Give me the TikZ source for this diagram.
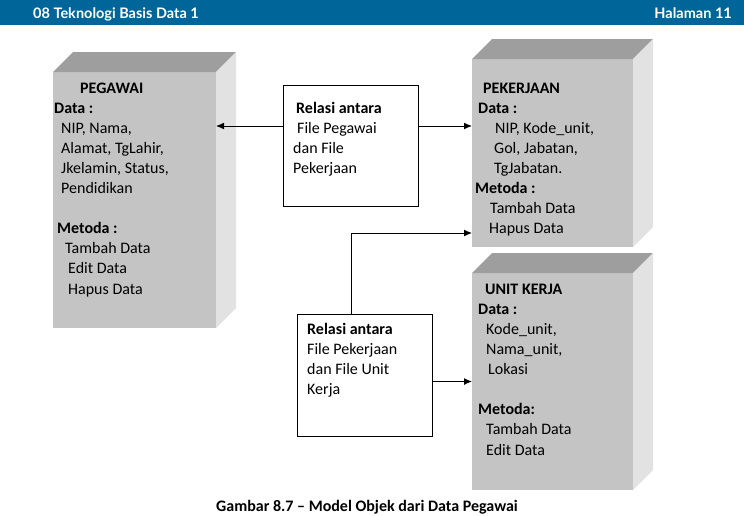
\documentclass[tikz,border=0pt]{standalone}
\usepackage{fontspec}
\setmainfont{Carlito}
\newfontfamily\headfont{Lato}
\usetikzlibrary{arrows.meta}
\definecolor{headblue}{RGB}{0,102,153}
\definecolor{facefront}{RGB}{196,196,196}
\definecolor{facetop}{RGB}{158,158,158}
\definecolor{faceside}{RGB}{226,226,226}

\begin{document}
\begin{tikzpicture}[x=1pt,y=-1pt,
  front/.style={fill=facefront,inner sep=0pt,outer sep=0pt},
  relbox/.style={draw,line width=1pt,fill=white,inner sep=0pt,outer sep=0pt,minimum width=135pt},
  txt/.style={align=left,inner sep=0pt,anchor=base west,font=\fontsize{16}{20.1}\selectfont},
  arr/.style={-{Latex[length=8pt,width=7pt]},line width=1pt}]
\useasboundingbox (0,0) rectangle (744,515);
% header bar
\fill[headblue] (0,0) rectangle (744,25);
\node[font=\headfont\bfseries\fontsize{14.5}{16}\selectfont,text=white,anchor=base west,inner sep=0pt] (headl) at (33,18) {08 Teknologi Basis Data 1};
\node[font=\headfont\bfseries\fontsize{14.5}{16}\selectfont,text=white,anchor=base east,inner sep=0pt] (headr) at (732,18) {Halaman 11};
% objek boxes
\node[front,minimum width=163pt,minimum height=256pt] (peg) at (134.5,200) {};
\node[front,minimum width=161pt,minimum height=188pt] (pek) at (552.5,153) {};
\node[front,minimum width=161pt,minimum height=217pt] (unit) at (552.5,381.5) {};
\foreach \b in {peg,pek,unit} {
  \fill[facetop] (\b.north west) -- ++(20,-20) -- ([shift={(20,-20)}]\b.north east) -- (\b.north east) -- cycle;
  \fill[faceside] (\b.north east) -- ++(20,-20) -- ([shift={(20,-20)}]\b.south east) -- (\b.south east) -- cycle;
}
% texts, anchored at the baseline of their last line
\node[txt] (peg-txt) at (54,294) {\hspace*{26pt}\textbf{PEGAWAI}\\
  \textbf{Data :}\\
  \hspace*{7pt}NIP, Nama,\\
  \hspace*{7pt}Alamat, TgLahir,\\
  \hspace*{7pt}Jkelamin, Status,\\
  \hspace*{7pt}Pendidikan\\[20.1pt]
  \hspace*{3pt}\textbf{Metoda :}\\
  \hspace*{11pt}Tambah Data\\
  \hspace*{14pt}Edit Data\\
  \hspace*{14pt}Hapus Data};
\node[txt,font=\fontsize{16}{20}\selectfont] (pek-txt) at (475,233) {\hspace*{8pt}\textbf{PEKERJAAN}\\
  \hspace*{3pt}\textbf{Data :}\\
  \hspace*{20pt}NIP, Kode\_unit,\\
  \hspace*{19pt}Gol, Jabatan,\\
  \hspace*{19pt}TgJabatan.\\
  \textbf{Metoda :}\\
  \hspace*{15pt}Tambah Data\\
  \hspace*{14pt}Hapus Data};
\node[txt] (unit-txt) at (478,455) {\hspace*{7pt}\textbf{UNIT KERJA}\\
  \textbf{Data :}\\
  \hspace*{8pt}Kode\_unit,\\
  \hspace*{8pt}Nama\_unit,\\
  \hspace*{10pt}Lokasi\\[20.1pt]
  \textbf{Metoda:}\\
  \hspace*{8pt}Tambah Data\\
  \hspace*{8pt}Edit Data};
% relasi boxes
\node[relbox,minimum height=121pt] (rel1) at (350.5,145.5) {};
\node[relbox,minimum height=122pt] (rel2) at (364.5,375) {};
\node[txt,font=\fontsize{16}{20}\selectfont] (rel1-txt) at (293,173) {\hspace*{3pt}\textbf{Relasi antara}\\
  \hspace*{4pt}File Pegawai\\
  dan File\\
  Pekerjaan};
\node[txt,font=\fontsize{16}{20}\selectfont] (rel2-txt) at (307,394) {\textbf{Relasi antara}\\
  File Pekerjaan\\
  dan File Unit\\
  Kerja};
% connectors
\draw[arr] ([yshift=19.5pt]rel1.west) -- ([yshift=19.5pt]rel1.west -| peg.east);
\draw[arr] ([yshift=19.5pt]rel1.east) -- ([yshift=19.5pt]rel1.east -| pek.west);
\draw[arr] ([xshift=-13.5pt]rel2.north) |- ([yshift=-80pt]pek.west);
\draw[arr] (rel2.east |- unit.west) -- (unit.west);
% caption
\node[font=\bfseries\fontsize{16}{18}\selectfont,anchor=base] (cap) at (367,511) {Gambar 8.7 – Model Objek dari Data Pegawai};
\end{tikzpicture}
\end{document}
